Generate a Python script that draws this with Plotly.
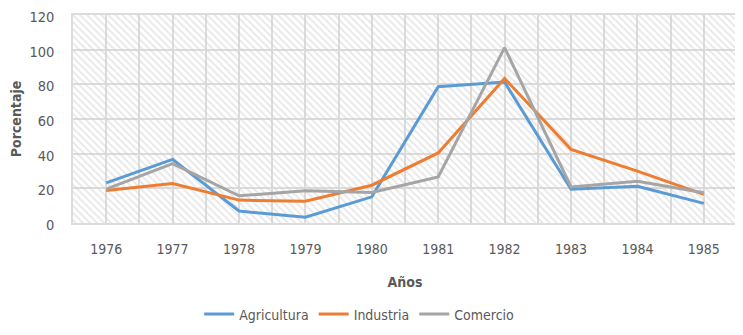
import plotly.graph_objects as go

years = [1976, 1977, 1978, 1979, 1980, 1981, 1982, 1983, 1984, 1985]
agricultura = [23.1, 36.7, 6.9, 3.3, 15.1, 78.6, 81.3, 19.5, 21.2, 11.3]
industria = [18.8, 22.8, 13.2, 12.5, 21.8, 40.4, 83.4, 42.5, 29.9, 16.5]
comercio = [19.5, 34.3, 15.7, 18.6, 17.6, 26.6, 101.2, 20.8, 24.1, 17.4]
series_names = ["Agricultura", "Industria", "Comercio"]
colors = ["#5B9BD5", "#ED7D31", "#A5A5A5"]

FONT = "DejaVu Sans Condensed, Liberation Sans Narrow, sans-serif"
x0, x1 = years[0] - 0.5, years[-1] + 0.5
ymax = 120

fig = go.Figure()
# hatched plot-area background
fig.add_trace(go.Scatter(
    x=[x0, x1], y=[ymax, ymax], fill="tozeroy", mode="none",
    fillcolor="rgba(255,255,255,0)",
    fillpattern=dict(shape="\\", fgcolor="#d0d0d0", bgcolor="rgba(255,255,255,0)",
                     size=5, solidity=0.35),
    showlegend=False, hoverinfo="skip"))

for name, vals, c in zip(series_names, [agricultura, industria, comercio], colors):
    fig.add_trace(go.Scatter(x=years, y=vals, mode="lines", name=name,
                             line=dict(color=c, width=3)))

halfs = [x0 + 0.5 * i for i in range(2 * len(years) + 1)]
fig.update_layout(
    width=735, height=327,
    margin=dict(l=65, r=6, t=7, b=112, autoexpand=False),
    paper_bgcolor="white", plot_bgcolor="white",
    font=dict(family=FONT, color="#595959", size=14),
    xaxis=dict(range=[x0, x1], tickvals=halfs,
               ticktext=[str(int(v)) if float(v).is_integer() else "" for v in halfs],
               showgrid=True, gridcolor="#dcdcdc", gridwidth=1.5,
               ticks="outside", ticklen=12, tickcolor="rgba(0,0,0,0)",
               showline=True, linecolor="#dcdcdc", linewidth=1.5, mirror=True, zeroline=False,
               title=dict(text="<b>Años</b>", font=dict(size=14, color="#595959"), standoff=22)),
    yaxis=dict(range=[0, ymax], dtick=20, showgrid=True, gridcolor="#dcdcdc", gridwidth=1.5,
               ticks="outside", ticklen=14, tickcolor="rgba(0,0,0,0)",
               tickfont=dict(size=14.5), ticklabeloverflow="allow", ticklabelshift=2,
               showline=True, linecolor="#dcdcdc", linewidth=1.5, mirror=True, zeroline=False,
               title=dict(text="<b>Porcentaje</b>", font=dict(size=14, color="#595959"), standoff=12)),
    legend=dict(orientation="h", x=0.19, xanchor="left", y=-0.44, yanchor="middle",
                font=dict(size=14, color="#595959"), itemwidth=30),
    showlegend=True,
)

fig.write_html("out.html")
